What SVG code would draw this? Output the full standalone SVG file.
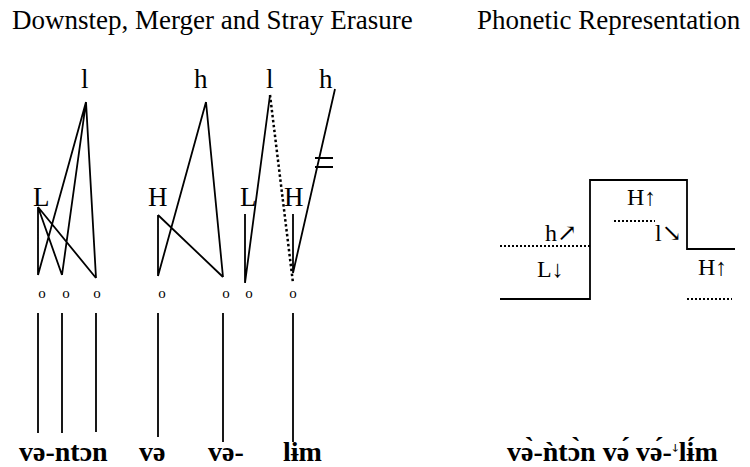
<svg xmlns="http://www.w3.org/2000/svg" width="750" height="467" viewBox="0 0 750 467">
<style>
text{font-family:"Liberation Serif","DejaVu Serif",serif;fill:#000}
.t{font-size:27px}
.m{font-size:27px}
.o{font-size:15px}
.b{font-size:28px;font-weight:bold}
.r{font-size:24px}
.ds{font-size:19px;font-weight:normal;font-family:"DejaVu Sans",sans-serif}
.ln{stroke:#000;stroke-width:1.8;fill:none}
.dt{stroke:#000;stroke-width:2.5;fill:none;stroke-dasharray:2.5 2.5}
.dp{stroke:#000;stroke-width:2;fill:none;stroke-dasharray:2 2}
</style>
<rect width="750" height="467" fill="#fff"/>
<g id="titles">
<text class="t" x="12" y="29">Downstep, Merger and Stray Erasure</text>
<text class="t" x="477" y="29">Phonetic Representation</text>
</g>
<g id="tones-top">
<text class="m" x="81" y="88">l</text>
<text class="m" x="194" y="88">h</text>
<text class="m" x="266" y="88">l</text>
<text class="m" x="319" y="88">h</text>
</g>
<g id="tones-mid">
<text class="m" x="33" y="206">L</text>
<text class="m" x="148" y="206">H</text>
<text class="m" x="240" y="206">L</text>
<text class="m" x="284" y="206">H</text>
</g>
<g id="tbu">
<text class="o" x="42" y="298" text-anchor="middle">o</text>
<text class="o" x="66" y="298" text-anchor="middle">o</text>
<text class="o" x="97" y="298" text-anchor="middle">o</text>
<text class="o" x="162" y="298" text-anchor="middle">o</text>
<text class="o" x="226" y="298" text-anchor="middle">o</text>
<text class="o" x="249" y="298" text-anchor="middle">o</text>
<text class="o" x="293" y="298" text-anchor="middle">o</text>
</g>
<g id="connectors">
<path class="ln" d="M38,207V275M38,207L62,275M38,207L96,278M86,102L38,275M86,102L62,275M86,102L96,278"/>
<path class="ln" d="M158,215V276M158,215L223,277M206,102L158,276M206,102L223,277"/>
<path class="ln" d="M245,214V282M270,95L245,283M293,214V273M335,89L293,273"/>
<path class="dt" d="M270,95L293,283"/>
<path class="ln" d="M315,158H333M315,167H333"/>
<path class="ln" d="M38,313V433M62,313V433M96,313V432M158,313V437M223,313V442M293,313V442"/>
</g>
<g id="words">
<text class="b" x="19" y="461">və-ntɔn</text>
<text class="b" x="139" y="461">və</text>
<text class="b" x="208" y="461">və-</text>
<text class="b" x="283" y="461">lɨm</text>
<text class="b" x="507" y="461">və̀-ǹtɔ̀n və́ və́-<tspan class="ds" dy="-3">ꜜ</tspan><tspan dy="3">lɨ́m</tspan></text>
</g>
<g id="pitch">
<path class="ln" d="M500,299H590V180H687V249H735"/>
<path class="dp" d="M500,246H590M614,221H655M687,299H732"/>
<text class="r" x="545" y="241">h↗</text>
<text class="r" x="537" y="277">L↓</text>
<text class="r" x="627" y="205">H↑</text>
<text class="r" x="655" y="241">l↘</text>
<text class="r" x="698" y="275">H↑</text>
</g>
</svg>
